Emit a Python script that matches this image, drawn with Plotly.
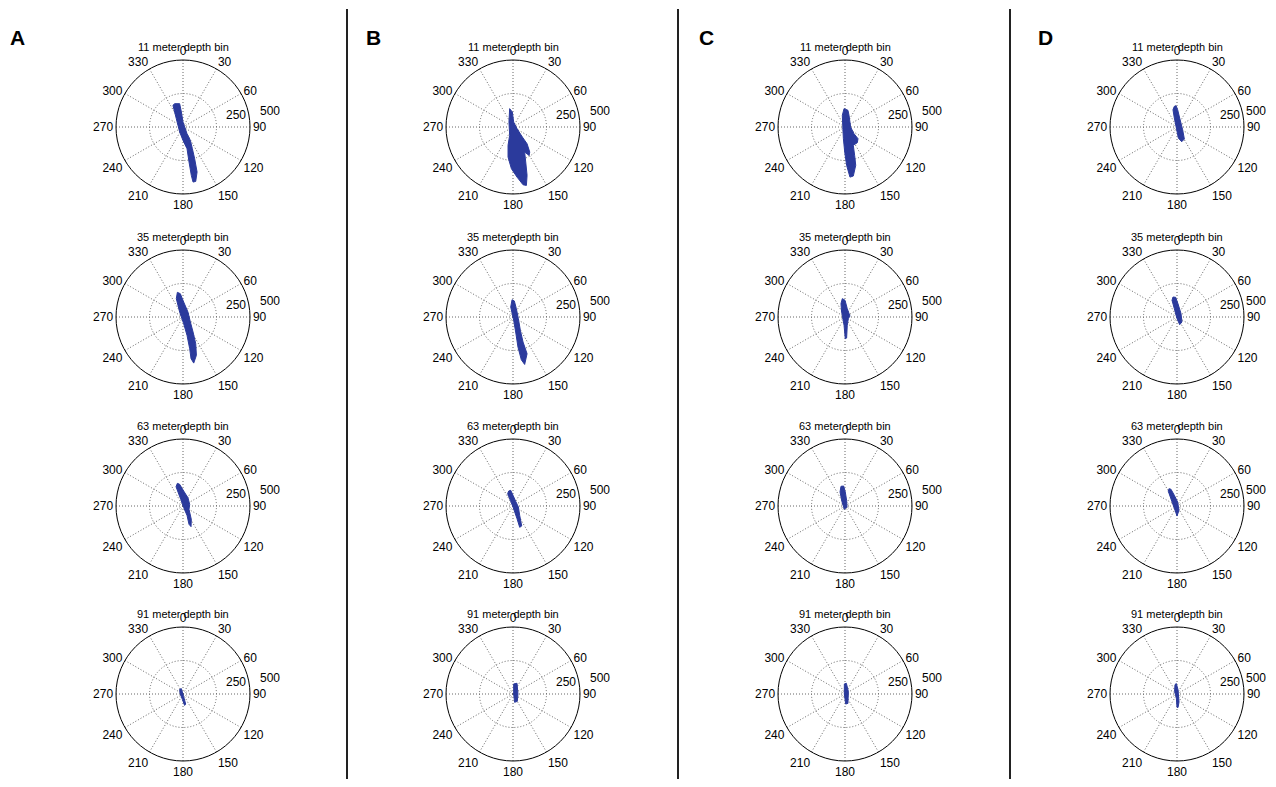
import numpy as np
import plotly.graph_objects as go

# ---------------- data ----------------
panel_letters = ["A", "B", "C", "D"]
depth_bins = [11, 35, 63, 91]
angle_ticks = list(range(0, 360, 30))
radial_ticks = [250, 500]

# Outlines of the current-vector clouds, east (u) and north (v) components
a11_east = [-62, -25, -12, 0, 30, 55, 70, 87, 105, 95, 75, 62, 45, 30, 0, -25, -50, -75]
a11_north = [174, 174, 112, 37, -50, -100, -162, -237, -336, -406, -411, -361, -261, -162, -100, -37, 62, 162]
b11_east = [-25, -5, 5, 30, 70, 105, 125, 120, 87, 95, 105, 100, 75, 30, -12, -37, -37, -25, -30]
b11_north = [137, 112, 37, -12, -75, -125, -187, -212, -187, -261, -361, -436, -431, -374, -311, -224, -137, -62, 37]
c11_east = [-7, 22, 30, 42, 67, 97, 92, 62, 72, 80, 62, 37, 12, -2, -12, -17, -20]
c11_north = [137, 125, 87, 0, -50, -87, -117, -137, -212, -286, -366, -374, -286, -187, -87, 12, 87]
d11_east = [-20, -7, 5, 20, 42, 55, 35, 10, -5, -20, -30]
d11_north = [154, 159, 129, 67, -20, -90, -110, -82, -7, 67, 129]

a35_east = [-42, -20, 5, 37, 55, 75, 95, 100, 80, 60, 50, 30, 5, -25, -50]
a35_north = [184, 174, 112, 37, -37, -112, -199, -286, -344, -311, -237, -137, -50, 37, 137]
b35_east = [-7, 10, 25, 40, 55, 75, 105, 87, 62, 37, 20, 5, -17]
b35_north = [129, 120, 62, -12, -100, -187, -274, -354, -319, -224, -112, -25, 75]
c35_east = [-20, 0, 17, 37, 25, 17, 12, 2, -7, -25, -30]
c35_north = [137, 125, 62, 7, -12, -62, -157, -162, -62, 37, 100]
d35_east = [-30, -10, 7, 30, 37, 20, 0, -20, -37]
d35_north = [149, 147, 100, 25, -37, -57, -12, 62, 125]

a63_east = [-42, -25, 5, 37, 50, 45, 62, 60, 45, 30, 5, -17, -52]
a63_north = [169, 162, 112, 62, 12, -25, -100, -154, -137, -70, -12, 50, 144]
b63_east = [-32, -17, 0, 20, 40, 50, 65, 50, 30, 0, -20, -40]
b63_north = [112, 117, 80, 35, -7, -70, -149, -159, -95, -7, 42, 92]
c63_east = [-30, -10, 2, 12, 15, -5, -22, -37]
c63_north = [147, 149, 105, 42, -7, -25, 30, 105]
d63_east = [-60, -45, -20, 5, 15, 0, -10, -35, -65]
d63_north = [129, 125, 80, 30, -32, -75, -45, 25, 110]

a91_east = [-25, -12, 5, 20, 12, -5, -22]
a91_north = [35, 40, -20, -75, -85, -40, 5]
b91_east = [5, 30, 37, 32, 12, 5]
b91_north = [75, 80, 0, -55, -62, 0]
c91_east = [-5, 10, 25, 22, 5, -5]
c91_north = [75, 80, 20, -70, -75, 0]
d91_east = [-15, -5, 8, 15, 8, 0, -5, -18]
d91_north = [70, 78, 30, -60, -100, -100, -30, 20]

clouds = [
    [(a11_east, a11_north), (a35_east, a35_north), (a63_east, a63_north), (a91_east, a91_north)],
    [(b11_east, b11_north), (b35_east, b35_north), (b63_east, b63_north), (b91_east, b91_north)],
    [(c11_east, c11_north), (c35_east, c35_north), (c63_east, c63_north), (c91_east, c91_north)],
    [(d11_east, d11_north), (d35_east, d35_north), (d63_east, d63_north), (d91_east, d91_north)],
]

# ---------------- layout geometry ----------------
OFF = 8                      # page body margin of the browser (both sides)
W, H = 1276 - 2 * OFF, 787 - 2 * OFF
col_cx = [c - OFF for c in [183, 513, 845, 1177]]
row_cy = [c - OFF for c in [127, 317, 506, 694]]
R = 67
FONT = "Liberation Sans, Arial, sans-serif"
BLUE = "#2b3a9c"
GRID = "#666666"

fig = go.Figure()
layout = dict(
    width=W, height=H, margin=dict(l=0, r=0, t=0, b=0),
    paper_bgcolor="white", plot_bgcolor="white", showlegend=False,
    font=dict(family=FONT, size=12, color="black"),
)
annotations = []
shapes = []

# offsets (px) of radial tick labels, as MATLAB places them
radial_label_dx = [53, 87]
radial_label_dy = [-12, -16]

k = 0
for ci in range(4):
    for ri in range(4):
        k += 1
        name = "polar" if k == 1 else f"polar{k}"
        cx, cy = col_cx[ci], row_cy[ri]
        layout[name] = dict(
            domain=dict(x=[(cx - R) / W, (cx + R) / W], y=[1 - (cy + R) / H, 1 - (cy - R) / H]),
            bgcolor="rgba(0,0,0,0)",
            angularaxis=dict(
                direction="clockwise", rotation=90,
                tickmode="array", tickvals=angle_ticks,
                ticktext=[str(a) for a in angle_ticks],
                ticks="", showline=True, linecolor="black", linewidth=1,
                showgrid=True, gridcolor=GRID, griddash="1px,2px", gridwidth=1,
                tickfont=dict(size=12, family=FONT),
            ),
            radialaxis=dict(
                range=[0, 500], tickmode="array", tickvals=radial_ticks,
                showticklabels=False, showline=False, ticks="",
                showgrid=True, gridcolor=GRID, griddash="1px,2px", gridwidth=1,
            ),
        )
        u, v = clouds[ci][ri]
        u = np.array(u, float)
        v = np.array(v, float)
        r = np.hypot(u, v)
        th = np.degrees(np.arctan2(u, v)) % 360
        fig.add_trace(go.Scatterpolar(
            r=np.append(r, r[0]), theta=np.append(th, th[0]),
            mode="lines", fill="toself", fillcolor=BLUE,
            line=dict(color=BLUE, width=1), subplot=name, hoverinfo="skip",
        ))
        annotations.append(dict(
            x=cx / W, y=1 - (cy - 80) / H, xref="paper", yref="paper",
            text=f"{depth_bins[ri]} meter depth bin", showarrow=False,
            font=dict(size=11, family=FONT), xanchor="center", yanchor="middle",
        ))
        for rv, dx, dy in zip(radial_ticks, radial_label_dx, radial_label_dy):
            lx = min(cx + dx, W - 12)
            annotations.append(dict(
                x=lx / W, y=1 - (cy + dy) / H, xref="paper", yref="paper",
                text=str(rv), showarrow=False,
                font=dict(size=12, family=FONT), xanchor="center", yanchor="middle",
            ))

letter_x = [17, 373, 706, 1045]
for L, lx in zip(panel_letters, letter_x):
    annotations.append(dict(
        x=(lx - OFF) / W, y=1 - (38 - OFF) / H, xref="paper", yref="paper", text=f"<b>{L}</b>",
        showarrow=False, font=dict(size=21, family=FONT), xanchor="center", yanchor="middle",
    ))

for sx in [347, 678, 1010]:
    shapes.append(dict(type="line", xref="paper", yref="paper",
                       x0=(sx - OFF) / W, x1=(sx - OFF) / W, y0=0, y1=1 - (9 - OFF) / H,
                       line=dict(color="#222", width=2)))

layout["annotations"] = annotations
layout["shapes"] = shapes
fig.update_layout(**layout)
fig.write_html("out.html")
